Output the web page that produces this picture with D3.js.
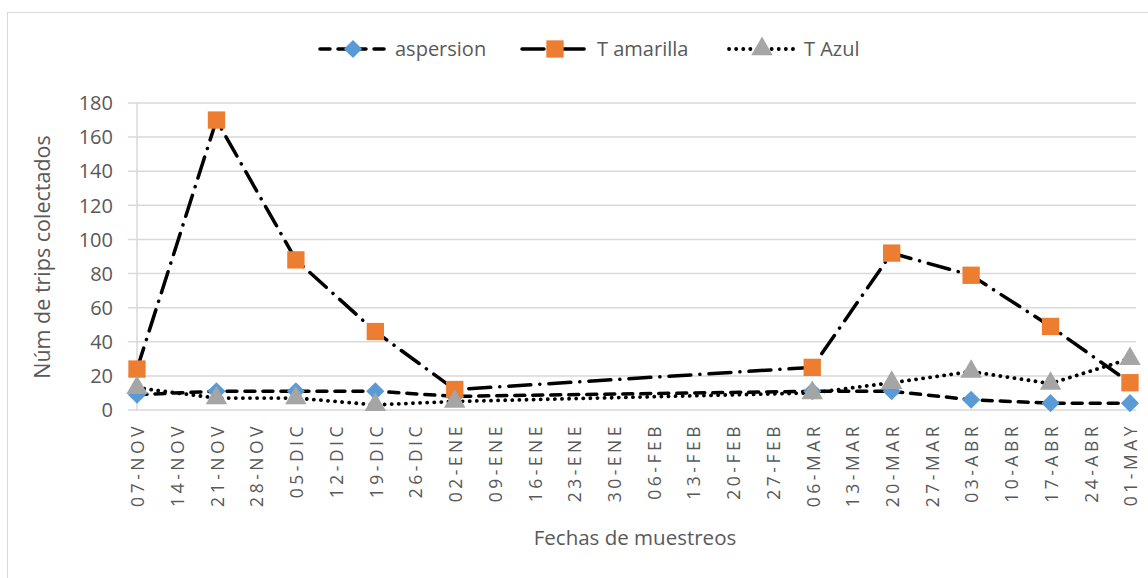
<!DOCTYPE html>
<html><head><meta charset="utf-8">
<script src="https://cdnjs.cloudflare.com/ajax/libs/d3/7.8.5/d3.min.js"></script>
<style>
body{margin:0;background:#fff;}
text{font-family:"Open Sans","Noto Sans",sans-serif;fill:#595959;}
</style></head><body>
<svg id="c" width="1148" height="578"></svg>
<script>
const tickLabels = ["07-NOV","14-NOV","21-NOV","28-NOV","05-DIC","12-DIC","19-DIC","26-DIC","02-ENE","09-ENE","16-ENE","23-ENE","30-ENE","06-FEB","13-FEB","20-FEB","27-FEB","06-MAR","13-MAR","20-MAR","27-MAR","03-ABR","10-ABR","17-ABR","24-ABR","01-MAY"];
const sampleDates = ["07-NOV","21-NOV","05-DIC","19-DIC","02-ENE","06-MAR","20-MAR","03-ABR","17-ABR","01-MAY"];
const aspersion = [9,11,11,11,8,11,11,6,4,4];
const tAmarilla = [24,170,88,46,12,25,92,79,49,16];
const tAzul = [13,7,7,3,5,10,16,22.5,15.5,30];
const yTicks = [0,20,40,60,80,100,120,140,160,180];
const seriesNames = ["aspersion","T amarilla","T Azul"];

const svg = d3.select("#c");
svg.append("rect").attr("x",7.5).attr("y",12.5).attr("width",1160).attr("height",580)
  .attr("fill","none").attr("stroke","#d9d9d9").attr("stroke-width",1);

const x = d3.scalePoint().domain(tickLabels).range([137,1130]);
const y = d3.scaleLinear().domain([0,180]).range([410,103]);

svg.append("g").selectAll("line").data(yTicks.filter(d=>d>0)).join("line")
  .attr("x1",128).attr("x2",1136).attr("y1",d=>y(d)).attr("y2",d=>y(d))
  .attr("stroke","#d9d9d9").attr("stroke-width",1.5);
svg.append("line").attr("x1",128).attr("x2",1136).attr("y1",y(0)).attr("y2",y(0))
  .attr("stroke","#d9d9d9").attr("stroke-width",1.5);
svg.append("line").attr("x1",137).attr("x2",137).attr("y1",y(180)).attr("y2",y(0))
  .attr("stroke","#d9d9d9").attr("stroke-width",1.5);

svg.append("g").selectAll("text").data(yTicks).join("text")
  .attr("x",113).attr("y",d=>y(d)).attr("dy","0.36em").attr("text-anchor","end")
  .style("font-size","20px").text(d=>d);

svg.append("g").selectAll("text").data(tickLabels).join("text")
  .attr("transform",d=>`translate(${x(d)+1},423) rotate(-90)`)
  .attr("text-anchor","end").attr("dy","0.36em")
  .style("font-size","17.5px").style("letter-spacing","3.5px").text(d=>d);

svg.append("text").attr("transform","translate(42,257) rotate(-90)").attr("text-anchor","middle")
  .attr("dy","0.35em").style("font-size","21.5px").text("Núm de trips colectados");
svg.append("text").attr("x",635).attr("y",538).attr("text-anchor","middle")
  .attr("dy","0.35em").style("font-size","20.5px").text("Fechas de muestreos");

const styles = [
  {data:aspersion, dash:"10,8", w:3.5, marker:"diamond", color:"#5b9bd5", size:165},
  {data:tAmarilla, dash:"22,9,0.1,9", w:3.5, marker:"square", color:"#ed7d31", size:300},
  {data:tAzul, dash:"0.1,7", w:3.8, marker:"triangle", color:"#a5a5a5", size:200}
];
const symType = {diamond:d3.symbolSquare, square:d3.symbolSquare, triangle:d3.symbolTriangle};
const rot = m => m==="diamond" ? " rotate(45)" : "";
const line = d3.line().x((d,i)=>x(sampleDates[i])).y(d=>y(d));

styles.forEach(s=>{
  svg.append("path").attr("d",line(s.data)).attr("fill","none").attr("stroke","#000")
    .attr("stroke-width",s.w).attr("stroke-dasharray",s.dash).attr("stroke-linecap","round");
});
styles.forEach(s=>{
  svg.append("g").selectAll("path").data(s.data).join("path")
    .attr("transform",(d,i)=>`translate(${x(sampleDates[i])},${y(d)})${rot(s.marker)}`)
    .attr("d",d3.symbol().type(symType[s.marker]).size(s.size)).attr("fill",s.color);
});

const legX = [318,520,727];
styles.forEach((s,i)=>{
  const g = svg.append("g").attr("transform",`translate(${legX[i]},49)`);
  g.append("line").attr("x1",2).attr("x2",70).attr("y1",0).attr("y2",0).attr("stroke","#000")
    .attr("stroke-width",s.w).attr("stroke-dasharray",s.dash).attr("stroke-linecap","round");
  g.append("path").attr("transform",`translate(35,0)${rot(s.marker)}`)
    .attr("d",d3.symbol().type(symType[s.marker]).size(s.size)).attr("fill",s.color);
  g.append("text").attr("x",77).attr("dy","0.35em").style("font-size","20px").text(seriesNames[i]);
});
</script></body></html>
